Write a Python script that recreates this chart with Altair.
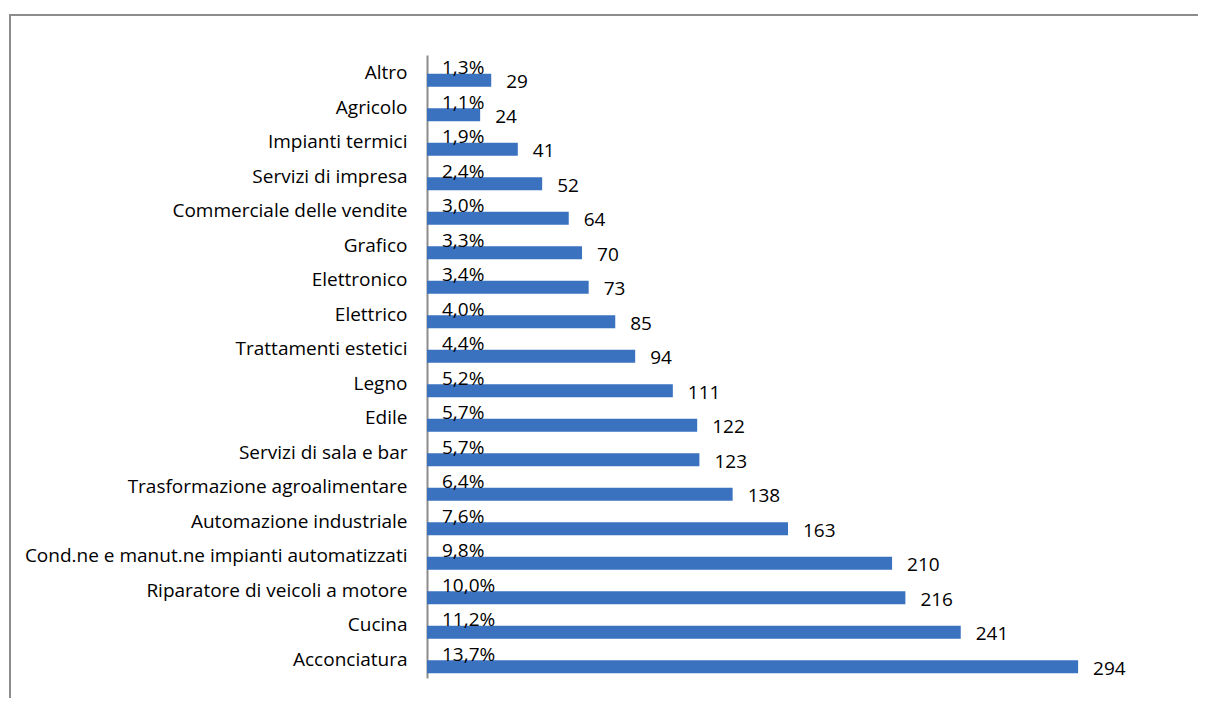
import altair as alt
import pandas as pd

categories = [
    "Altro", "Agricolo", "Impianti termici", "Servizi di impresa",
    "Commerciale delle vendite", "Grafico", "Elettronico", "Elettrico",
    "Trattamenti estetici", "Legno", "Edile", "Servizi di sala e bar",
    "Trasformazione agroalimentare", "Automazione industriale",
    "Cond.ne e manut.ne impianti automatizzati",
    "Riparatore di veicoli a motore", "Cucina", "Acconciatura",
]
counts = [29, 24, 41, 52, 64, 70, 73, 85, 94, 111, 122, 123, 138, 163, 210, 216, 241, 294]
percents = ["1,3%", "1,1%", "1,9%", "2,4%", "3,0%", "3,3%", "3,4%", "4,0%", "4,4%",
            "5,2%", "5,7%", "5,7%", "6,4%", "7,6%", "9,8%", "10,0%", "11,2%", "13,7%"]

df = pd.DataFrame({"cat": categories, "n": counts, "pct": percents})

FONT = "Open Sans"
FS = 19

y = alt.Y("cat:N", sort=categories, title=None,
          scale=alt.Scale(paddingInner=0.623, paddingOuter=0.3406, align=0.8),
          axis=alt.Axis(ticks=False, labelPadding=20, labelFontSize=FS,
                        labelFont=FONT, labelColor="#000000", labelOffset=-7,
                        domainColor="#8c8c8c", domainWidth=2, labelLimit=500))
x = alt.X("n:Q", title=None, scale=alt.Scale(domain=[0, 340], nice=False), axis=None)

base = alt.Chart(df)

bars = base.mark_bar(color="#3a72c0").encode(x=x, y=y)

count_labels = base.mark_text(align="left", baseline="middle", dx=15, dy=2,
                              font=FONT, fontSize=FS, color="#000000"
                              ).encode(x=x, y=y, text="n:Q")

pct_labels = base.mark_text(align="left", baseline="middle", dx=15, dy=-12,
                            font=FONT, fontSize=FS, color="#000000"
                            ).encode(x=alt.value(0), y=y, text="pct:N")

frame_df = pd.DataFrame({"k": [0]})
frame_left = alt.Chart(frame_df).mark_rule(color="#8c8c8c", strokeWidth=2, clip=False).encode(
    x=alt.value(-417), y=alt.value(-41), y2=alt.value(700))
frame_top = alt.Chart(frame_df).mark_rule(color="#8c8c8c", strokeWidth=2, clip=False).encode(
    x=alt.value(-418), x2=alt.value(900), y=alt.value(-40))

chart = alt.layer(frame_left, frame_top, bars, pct_labels, count_labels).properties(
    width=753, height=623,
    autosize=alt.AutoSizeParams(type="none"),
    padding={"left": 419, "top": 47, "right": 18, "bottom": 20},
).configure_view(stroke=None)

chart.save("out.html", embed_options={"renderer": "svg", "actions": False})
